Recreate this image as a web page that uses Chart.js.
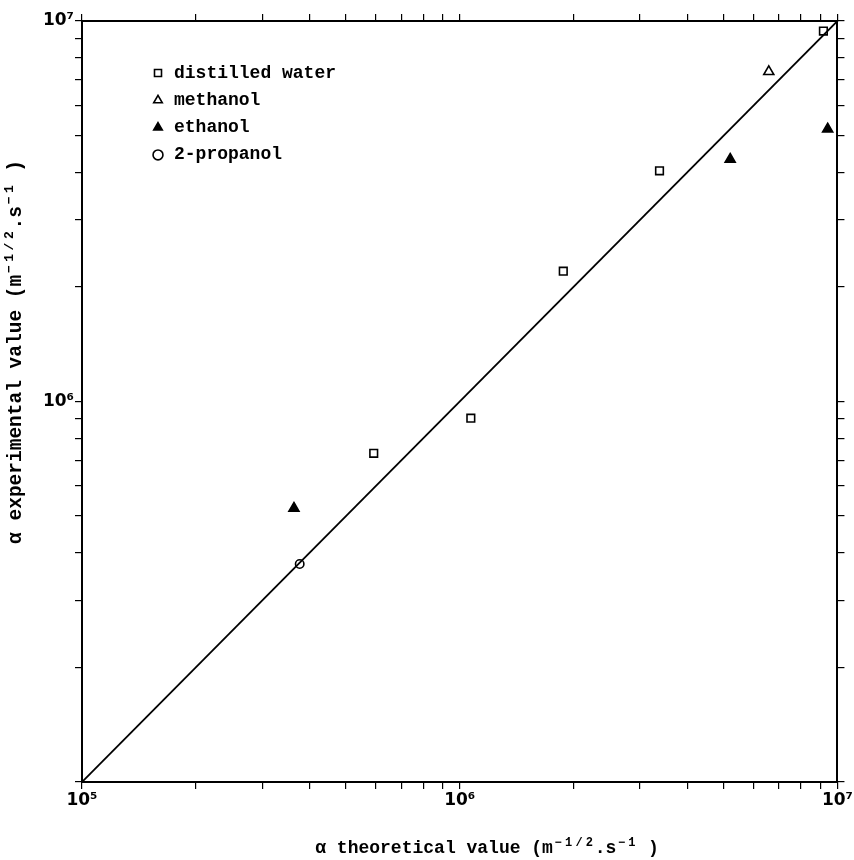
<!DOCTYPE html>
<html><head><meta charset="utf-8">
<script src="https://cdn.jsdelivr.net/npm/chart.js@4.4.1/dist/chart.umd.min.js"></script>
<style>html,body{margin:0;padding:0;background:#fff}canvas{display:block}</style>
</head><body>
<canvas id="c" width="854" height="860"></canvas>
<script>
// ---- data ----
const seriesNames = ['distilled water', 'methanol', 'ethanol', '2-propanol'];
const waterX    = [5.92e5, 1.07e6, 1.88e6, 3.38e6, 9.18e6];
const waterY    = [7.31e5, 9.04e5, 2.20e6, 4.04e6, 9.41e6];
const methanolX = [6.58e6];
const methanolY = [7.36e6];
const ethanolX  = [3.64e5, 5.20e6, 9.42e6];
const ethanolY  = [5.24e5, 4.33e6, 5.20e6];
const propanolX = [3.77e5];
const propanolY = [3.74e5];
const diagonalX = [1e5, 1e7];
const diagonalY = [1e5, 1e7];
const majorTicks = [1e5, 1e6, 1e7];
const xTickLabels = ['10⁵', '10⁶', '10⁷'];
const yTickLabels = ['', '10⁶', '10⁷'];
const minorMultipliers = [2, 3, 4, 5, 6, 7, 8, 9];
const xTitleParts = [['α theoretical value (m', 0], ['−1/2', 1], ['.s', 0], ['−1', 1], [' )', 0]];
const yTitleParts = [['α experimental value (m', 0], ['−1/2', 1], ['.s', 0], ['−1', 1], [' )', 0]];

const tickValues = [];
majorTicks.forEach((m, i) => {
  tickValues.push(m);
  if (i < majorTicks.length - 1) minorMultipliers.forEach(k => tickValues.push(k * m));
});
const pts = (xs, ys) => xs.map((x, i) => ({x, y: ys[i]}));
const labelFor = (v, labels) => {
  const i = majorTicks.findIndex(m => Math.abs(m - v) / m < 1e-6);
  return i >= 0 ? labels[i] : '';
};

const MONO = "'Liberation Mono', 'DejaVu Sans Mono', monospace";
const SANS = "'DejaVu Sans', sans-serif";

function logAxis(axis, position, showLabels, size) {
  const labels = axis === 'x' ? xTickLabels : yTickLabels;
  return {
    type: 'logarithmic', axis, position, min: 1e5, max: 1e7,
    afterBuildTicks: s => { s.ticks = tickValues.map(v => ({value: v})); },
    afterFit: s => { if (axis === 'x') s.height = size; else s.width = size; },
    ticks: {
      display: showLabels, autoSkip: false, maxRotation: 0, minRotation: 0,
      padding: 1, color: '#000',
      font: {family: SANS, size: 17, weight: 'bold'},
      callback: v => labelFor(v, labels)
    },
    grid: {display: true, drawOnChartArea: false, drawTicks: true, tickLength: 7,
           tickColor: '#000', color: '#000', lineWidth: 1.2},
    border: {display: true, color: '#000', width: 2}
  };
}

const legendPlugin = {
  id: 'legendPlace',
  beforeDraw(chart) {
    const lg = chart.legend;
    if (lg) { lg.left = chart.chartArea.left + 59.7; lg.top = chart.chartArea.top + 33.7; }
  }
};

function drawParts(ctx, parts, cx, baseY, size) {
  const mainFont = "bold " + size + "px " + MONO;
  const supFont = "bold " + Math.round(size * 0.67) + "px " + MONO;
  const supAdv = size * 0.58;
  let total = 0;
  parts.forEach(([t, sup]) => {
    if (sup) total += t.length * supAdv;
    else { ctx.font = mainFont; total += ctx.measureText(t).width; }
  });
  let x = cx - total / 2;
  ctx.textBaseline = 'alphabetic';
  ctx.textAlign = 'left';
  parts.forEach(([t, sup]) => {
    if (sup) {
      ctx.font = supFont;
      for (const ch of t) {
        ctx.fillText(ch, x + (supAdv - ctx.measureText(ch).width) / 2, baseY - size * 0.4);
        x += supAdv;
      }
    } else {
      ctx.font = mainFont;
      ctx.fillText(t, x, baseY);
      x += ctx.measureText(t).width;
    }
  });
}

const titlePlugin = {
  id: 'axisTitles',
  afterDraw(chart) {
    const ctx = chart.ctx;
    const a = chart.chartArea;
    ctx.save();
    ctx.fillStyle = '#000';
    drawParts(ctx, xTitleParts, a.left + 405, 853, 18);
    ctx.translate(21, a.top + 331);
    ctx.rotate(-Math.PI / 2);
    drawParts(ctx, yTitleParts, 0, 0, 19.5);
    ctx.restore();
  }
};

new Chart(document.getElementById('c'), {
  type: 'scatter',
  data: {
    datasets: [
      {label: seriesNames[0], data: pts(waterX, waterY), pointStyle: 'rect', pointRadius: 5.4,
       borderColor: '#000', pointBorderColor: '#000', backgroundColor: 'rgba(255,255,255,0)',
       pointBackgroundColor: 'rgba(255,255,255,0)', borderWidth: 1.6, pointBorderWidth: 1.6},
      {label: seriesNames[1], data: pts(methanolX, methanolY), pointStyle: 'triangle', pointRadius: 5.8,
       borderColor: '#000', pointBorderColor: '#000', backgroundColor: 'rgba(255,255,255,0)',
       pointBackgroundColor: 'rgba(255,255,255,0)', borderWidth: 1.6, pointBorderWidth: 1.6},
      {label: seriesNames[2], data: pts(ethanolX, ethanolY), pointStyle: 'triangle', pointRadius: 5.8,
       borderColor: '#000', pointBorderColor: '#000', backgroundColor: '#000',
       pointBackgroundColor: '#000', borderWidth: 1.6, pointBorderWidth: 1.6},
      {label: seriesNames[3], data: pts(propanolX, propanolY), pointStyle: 'circle', pointRadius: 4.2,
       borderColor: '#000', pointBorderColor: '#000', backgroundColor: 'rgba(255,255,255,0)',
       pointBackgroundColor: 'rgba(255,255,255,0)', borderWidth: 1.6, pointBorderWidth: 1.6},
      {label: 'y = x', data: pts(diagonalX, diagonalY), showLine: true, pointRadius: 0,
       borderColor: '#000', borderWidth: 1.8, fill: false}
    ]
  },
  options: {
    responsive: false, animation: false, devicePixelRatio: 1,
    layout: {padding: 0, autoPadding: false},
    scales: {
      x: logAxis('x', 'bottom', true, 78),
      x2: logAxis('x', 'top', false, 21),
      y: logAxis('y', 'left', true, 82),
      y2: logAxis('y', 'right', false, 7)
    },
    plugins: {
      tooltip: {enabled: false},
      legend: {
        position: 'chartArea', align: 'start',
        labels: {
          usePointStyle: true, boxWidth: 14, boxHeight: 7, padding: 9.3, color: '#000',
          font: {family: MONO, size: 18, weight: 'bold'},
          filter: item => item.datasetIndex < 4
        }
      }
    }
  },
  plugins: [legendPlugin, titlePlugin]
});
</script>
</body></html>
